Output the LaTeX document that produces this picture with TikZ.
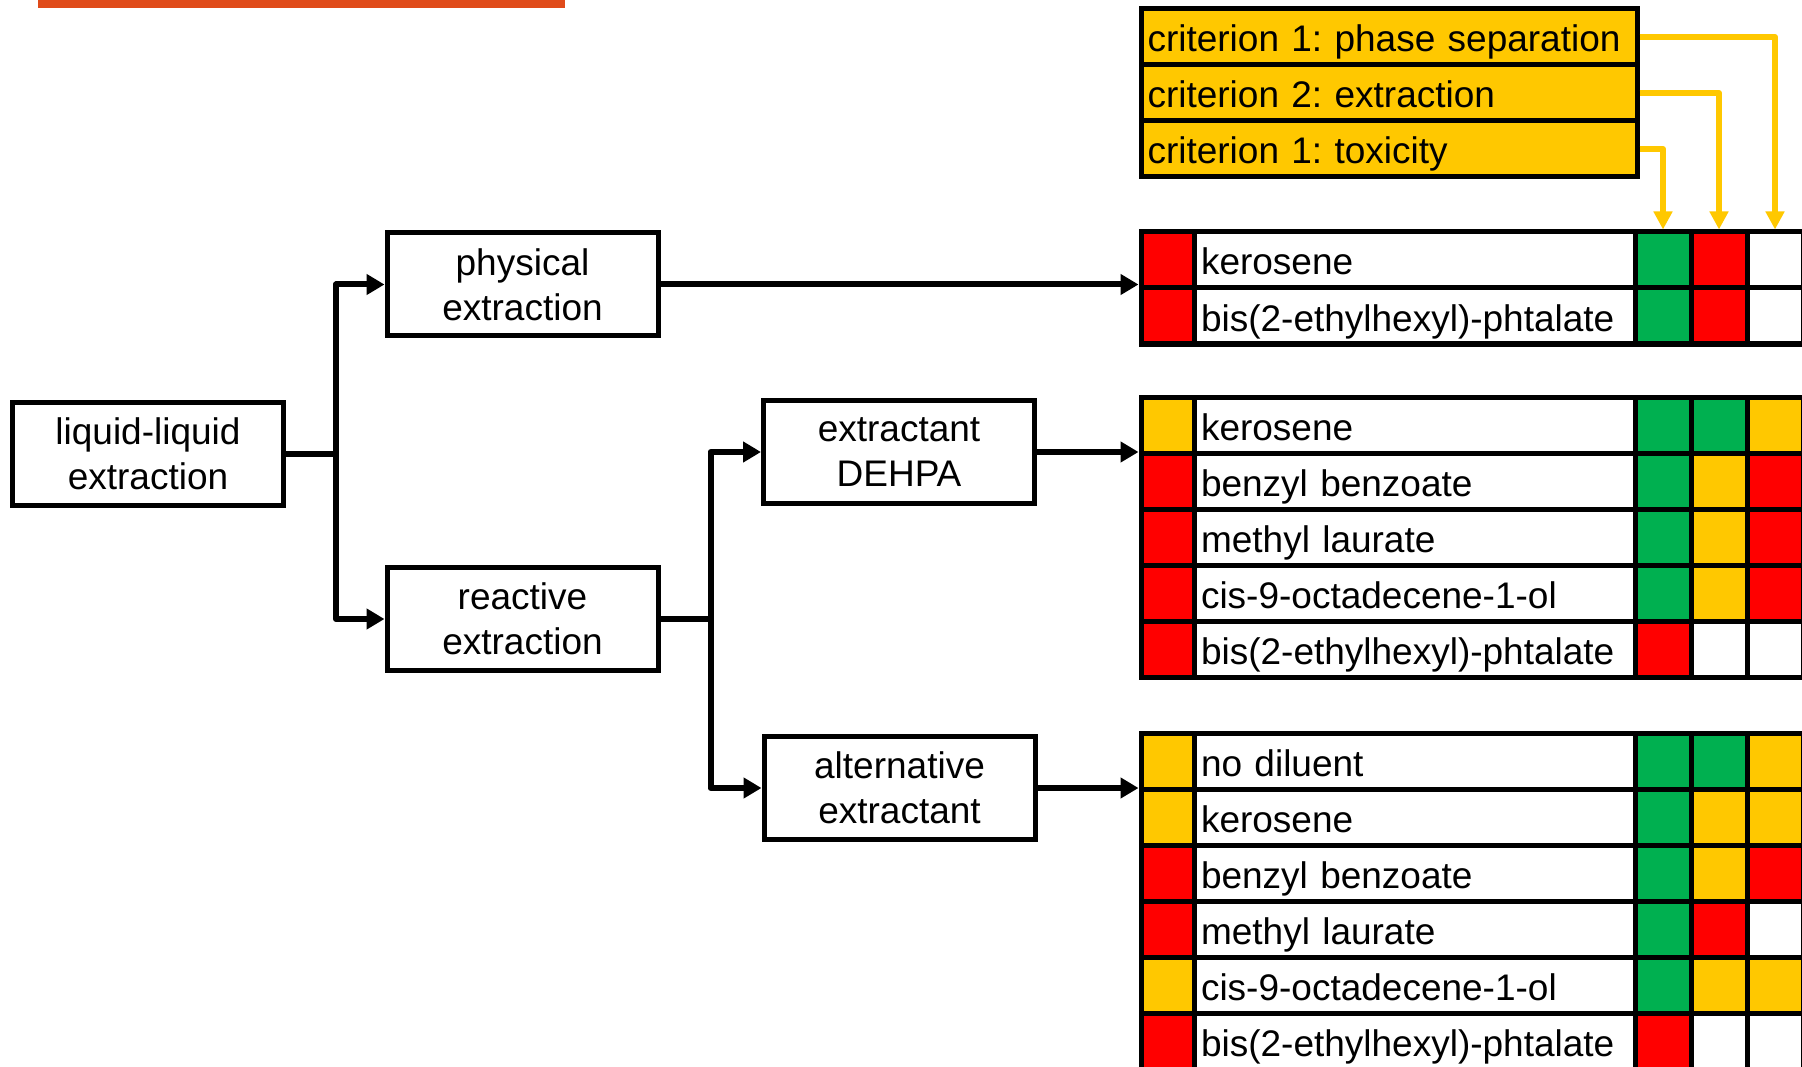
\documentclass[tikz,border=0pt]{standalone}
\usepackage{fontspec}
\setmainfont{Liberation Sans}
\usetikzlibrary{arrows.meta}
\definecolor{cred}{RGB}{255,0,0}
\definecolor{cgreen}{RGB}{0,176,80}
\definecolor{cyellow}{RGB}{255,200,0}
\definecolor{slidebar}{RGB}{224,75,26}
\frenchspacing
% one table of diluents: name prefix, top y, rows
\newcommand{\soltable}[3]{%
  \foreach \x/\txt/\ya/\yb/\yc [count=\i] in {#3} {
    \node[cell, fill=\x, minimum width=54pt] (#1a\i) at (1168, {#2+56*\i-28}) {};
    \node[cell, fill=white, text width=428pt] (#1n\i) at (1415, {#2+56*\i-28}) {\txt};
    \node[cell, fill=\ya] (#1b\i) at (1663, {#2+56*\i-28}) {};
    \node[cell, fill=\yb] (#1c\i) at (1719, {#2+56*\i-28}) {};
    \node[cell, fill=\yc] (#1d\i) at (1775, {#2+56*\i-28}) {};
  }}
\begin{document}
\begin{tikzpicture}[x=1pt, y=-1pt, font=\fontsize{37}{45}\selectfont,
  box/.style={draw, line width=5pt, minimum width=271pt, minimum height=103pt, align=center},
  cell/.style={draw, line width=5pt, minimum width=56pt, minimum height=56pt,
    inner xsep=6.5pt, inner ysep=0pt, text height=30pt, text depth=0pt, align=left},
  flow/.style={line width=6pt, line join=round, -{Triangle[length=18pt,width=20pt]}},
  critarrow/.style={draw=cyellow, line width=6pt, line join=round, -{Triangle[length=18pt,width=18pt]}}]
\useasboundingbox (0,0) rectangle (1802,1067);
\clip (0,0) rectangle (1802,1067);
\fill[white] (0,0) rectangle (1802,1067);
\fill[slidebar] (38,-5) rectangle (565,8);

\node[box] (liquid) at (148,453.5) {liquid-liquid\\extraction};
\node[box] (physical) at (522.5,284.5) {physical\\extraction};
\node[box] (reactive) at (522.5,619) {reactive\\extraction};
\node[box] (dehpa) at (899,452) {extractant\\DEHPA};
\node[box] (alt) at (899.5,788) {alternative\\extractant};

\foreach \txt [count=\i] in {criterion 1: phase separation, criterion 2: extraction, criterion 1: toxicity}
  \node[cell, fill=cyellow, text width=483pt] (crit\i) at (1389, {9+56*\i-28}) {\txt};

\soltable{t1}{232}{cred/kerosene/cgreen/cred/white,
  cred/bis(2-ethylhexyl)-phtalate/cgreen/cred/white}
\soltable{t2}{397}{cyellow/kerosene/cgreen/cgreen/cyellow,
  cred/benzyl benzoate/cgreen/cyellow/cred,
  cred/methyl laurate/cgreen/cyellow/cred,
  cred/cis-9-octadecene-1-ol/cgreen/cyellow/cred,
  cred/bis(2-ethylhexyl)-phtalate/cred/white/white}
\soltable{t3}{733}{cyellow/no diluent/cgreen/cgreen/cyellow,
  cyellow/kerosene/cgreen/cyellow/cyellow,
  cred/benzyl benzoate/cgreen/cyellow/cred,
  cred/methyl laurate/cgreen/cred/white,
  cyellow/cis-9-octadecene-1-ol/cgreen/cyellow/cyellow,
  cred/bis(2-ethylhexyl)-phtalate/cred/white/white}

\draw[flow] (liquid.east) -- ++(50,0) |- (physical.west);
\draw[flow] (liquid.east) -- ++(50,0) |- (reactive.west);
\draw[flow] (reactive.east) -- ++(50,0) |- (dehpa.west);
\draw[flow] (reactive.east) -- ++(50,0) |- (alt.west);
\draw[flow] (physical.east) -- (physical.east -| t1a1.west);
\draw[flow] (dehpa.east) -- (dehpa.east -| t2a1.west);
\draw[flow] (alt.east) -- (alt.east -| t3a1.west);

\draw[critarrow] (crit1.east) -| (t1d1.north);
\draw[critarrow] (crit2.east) -| (t1c1.north);
\draw[critarrow] (crit3.east) -| (t1b1.north);
\end{tikzpicture}
\end{document}
